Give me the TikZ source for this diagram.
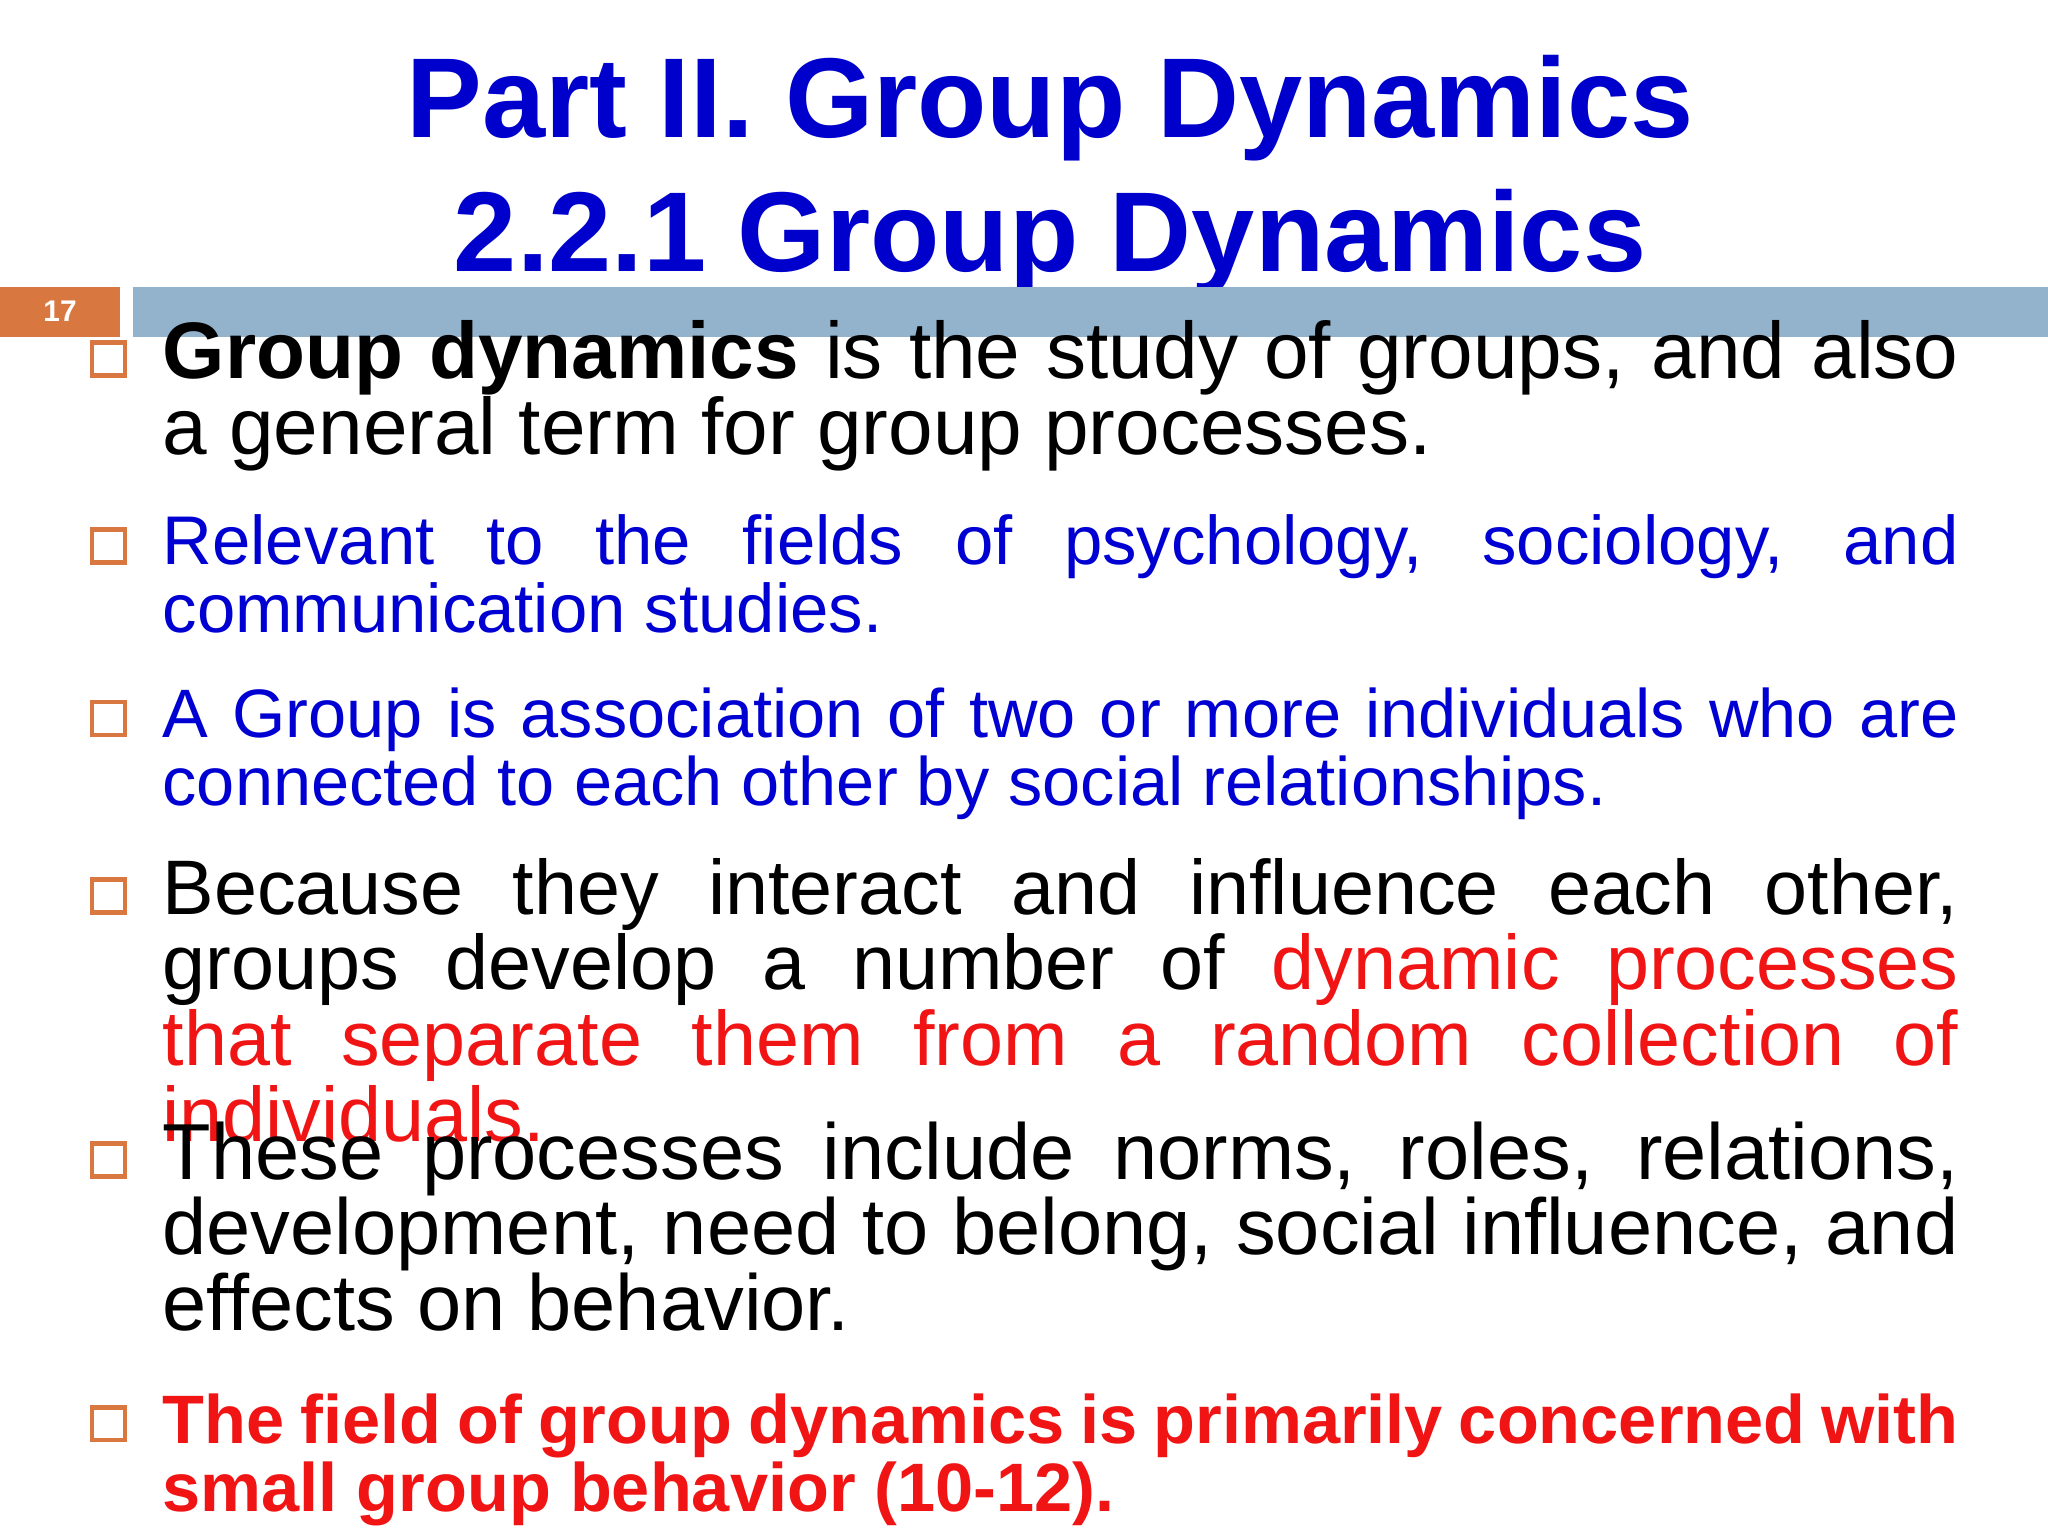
\documentclass[tikz,border=0pt]{standalone}
\usepackage{fontspec}
\setmainfont{Liberation Sans}
\definecolor{ttlblue}{RGB}{0,0,204}
\definecolor{txtblue}{RGB}{0,0,210}
\definecolor{txtred}{RGB}{240,20,20}
\definecolor{orng}{RGB}{217,119,64}
\definecolor{barblue}{RGB}{147,178,204}
\tikzset{
 item/.style={anchor=base west,inner sep=0pt},
 bul/.style={draw=orng,line width=1.3pt,minimum size=17pt,inner sep=0pt,anchor=center,scale=0.55}
}
\newcommand{\fsz}[2]{\fontsize{#1pt}{#2pt}\selectfont\hyphenpenalty=10000\exhyphenpenalty=10000\emergencystretch=3em\tolerance=9999}
\begin{document}
\begin{tikzpicture}[x=0.01306cm,y=-0.01306cm]
\useasboundingbox (0,0) rectangle (1568,1176);
\fill[white] (0,0) rectangle (1568,1176);
\node[anchor=base,inner sep=0,text=ttlblue,font=\fsz{32.3}{38}\bfseries] (t1) at (804,105) {Part II. Group Dynamics};
\node[anchor=base,inner sep=0,text=ttlblue,font=\fsz{32.3}{38}\bfseries] (t2) at (804,208) {2.2.1 Group Dynamics};
\fill[barblue] (102,220) rectangle (1568,258);
\fill[orng] (0,220) rectangle (92,258);
\node[text=white,font=\fsz{8.5}{10}\bfseries] (pg) at (46,238) {17};
\foreach \y/\n in {275/b1,418/b2,550/b3,686/b4,888/b5,1090/b6}
  \node[bul] (\n) at (83,\y) {};
\node[item] (i1) at (124,290) {\parbox[t]{511pt}{\fsz{22.8}{21.5}\textbf{Group dynamics} is the study of groups, and also a general term for group processes.}};
\node[item,text=txtblue] (i2) at (124,432) {\parbox[t]{511pt}{\fsz{19.6}{19.3}Relevant to the fields of psychology, sociology, and communication studies.}};
\node[item,text=txtblue] (i3) at (124,565) {\parbox[t]{511pt}{\fsz{19.5}{19.3}A Group is association of two or more individuals who are connected to each other by social relationships.}};
\node[item] (i4) at (124,700) {\parbox[t]{511pt}{\fsz{22.0}{20}Because they interact and influence each other, groups develop a number of {\color{txtred}dynamic processes that separate them from a random collection of individuals.}}};
\node[item] (i5) at (124,903) {\parbox[t]{511pt}{\fsz{22.6}{21.5}These processes include norms, roles, relations, development, need to belong, social influence, and effects on behavior.}};
\node[item,text=txtred] (i6) at (124,1105) {\parbox[t]{511pt}{\fsz{19.5}{19.3}\bfseries The field of group dynamics is primarily concerned with small group behavior (10-12).}};
\end{tikzpicture}
\end{document}
